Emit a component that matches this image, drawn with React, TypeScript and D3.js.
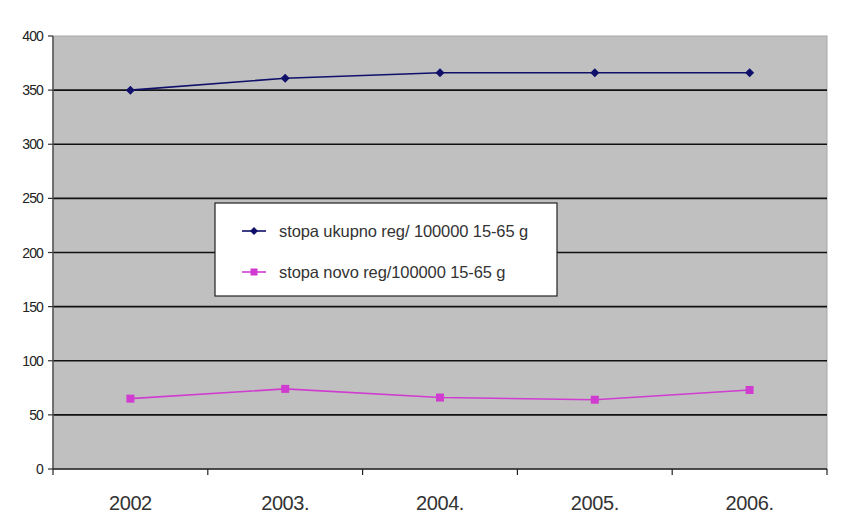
import React from "react";
import * as d3 from "d3";

const categories = ["2002", "2003.", "2004.", "2005.", "2006."];
const seriesTotal = [350, 361, 366, 366, 366];
const seriesNew = [65, 74, 66, 64, 73];
const yTicks = [0, 50, 100, 150, 200, 250, 300, 350, 400];
const legendLabels = ["stopa ukupno reg/ 100000 15-65 g", "stopa novo reg/100000 15-65 g"];

export default function App() {
  const W = 857, H = 518;
  const left = 53, right = 827, top = 36, bottom = 469;
  const x = d3.scaleBand<string>().domain(categories).range([left, right]).padding(0);
  const y = d3.scaleLinear().domain([0, 400]).range([bottom, top]);
  const cx = (c: string) => (x(c) as number) + x.bandwidth() / 2;
  const line = d3.line<number>().x((_, i) => cx(categories[i])).y((d) => y(d));
  const font = "'Liberation Sans', Arial, sans-serif";
  const navy = "#10106a";
  const pink = "#d03cd0";
  const bounds = [...categories.map((c) => x(c) as number), right];

  return (
    <svg width={W} height={H} style={{ position: "absolute", left: 0, top: 0, background: "#fff" }}>
      <rect x={0} y={0} width={W} height={H} fill="#ffffff" />
      <rect x={left} y={top} width={right - left} height={bottom - top} fill="#c0c0c0" stroke="#a8a8a8" strokeWidth={1} />
      {yTicks.filter((t) => t > 0 && t < 400).map((t) => (
        <line key={t} x1={left} x2={right} y1={y(t)} y2={y(t)} stroke="#111" strokeWidth={1.6} />
      ))}
      {/* y axis */}
      <line x1={left} x2={left} y1={top} y2={bottom} stroke="#555" strokeWidth={1.5} />
      {yTicks.map((t) => (
        <g key={t}>
          <line x1={left - 5} x2={left} y1={y(t)} y2={y(t)} stroke="#333" strokeWidth={1.2} />
          <text x={43} y={y(t) + 5} textAnchor="end" fontFamily={font} fontSize={14} fill="#222" letterSpacing={-0.9}>{t}</text>
        </g>
      ))}
      {/* x axis */}
      <line x1={left} x2={right} y1={bottom} y2={bottom} stroke="#222" strokeWidth={1.6} />
      {bounds.map((b, i) => (
        <line key={i} x1={b} x2={b} y1={bottom} y2={bottom + 6} stroke="#222" strokeWidth={1.2} />
      ))}
      {categories.map((c) => (
        <text key={c} x={cx(c)} y={510} textAnchor="middle" fontFamily={font} fontSize={20} fill="#333" letterSpacing={-0.4}>{c}</text>
      ))}
      {/* series */}
      <path d={line(seriesTotal) || ""} fill="none" stroke={navy} strokeWidth={1.6} />
      {seriesTotal.map((v, i) => {
        const px = cx(categories[i]), py = y(v);
        return <path key={i} d={`M${px},${py - 4.5}L${px + 4.5},${py}L${px},${py + 4.5}L${px - 4.5},${py}Z`} fill={navy} />;
      })}
      <path d={line(seriesNew) || ""} fill="none" stroke={pink} strokeWidth={1.6} />
      {seriesNew.map((v, i) => {
        const px = cx(categories[i]), py = y(v);
        return <rect key={i} x={px - 4} y={py - 4} width={8} height={8} fill={pink} />;
      })}
      {/* legend */}
      <rect x={215} y={203} width={342} height={93} fill="#ffffff" stroke="#222" strokeWidth={1.2} />
      <line x1={242} x2={266} y1={231} y2={231} stroke={navy} strokeWidth={1.6} />
      <path d="M254,227L258,231L254,235L250,231Z" fill={navy} />
      <text x={279} y={237} fontFamily={font} fontSize={16.5} fill="#333" letterSpacing={-0.1}>{legendLabels[0]}</text>
      <line x1={242} x2={266} y1={272} y2={272} stroke={pink} strokeWidth={1.6} />
      <rect x={250.5} y={268.5} width={7} height={7} fill={pink} />
      <text x={279} y={278} fontFamily={font} fontSize={16.5} fill="#333" letterSpacing={-0.1}>{legendLabels[1]}</text>
    </svg>
  );
}
